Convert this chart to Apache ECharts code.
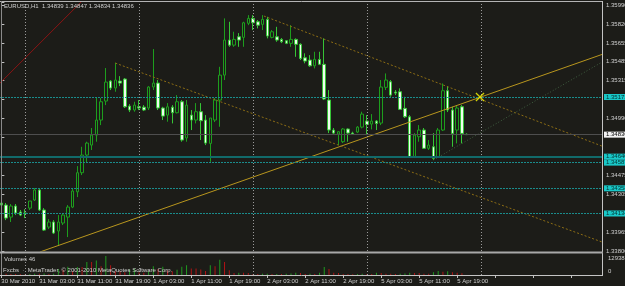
<!DOCTYPE html>
<html>
<head>
<meta charset="utf-8">
<script src="https://cdn.jsdelivr.net/npm/echarts@6/dist/echarts.min.js"></script>
<style>
html,body{margin:0;padding:0;background:#1c1c18;overflow:hidden;}
#chart{width:625px;height:286px;}
</style>
</head>
<body>
<div id="chart"></div>
<script>
// ---------------- data ----------------
const dayBlocks = [['30 Mar',19,23],['31 Mar',0,23],['1 Apr',0,23],['2 Apr',0,23],['5 Apr',0,23],['6 Apr',0,23],['7 Apr',0,1]];
const xTickLabels = ['30 Mar 2010','31 Mar 03:00','31 Mar 11:00','31 Mar 19:00','1 Apr 03:00','1 Apr 11:00','1 Apr 19:00','2 Apr 03:00','2 Apr 11:00','2 Apr 19:00','5 Apr 03:00','5 Apr 11:00','5 Apr 19:00'];
const yTickLabels = ['1.33800','1.33965','','1.34305','1.34475','','','1.34990','','1.35315','1.35485','1.35655','1.35820','1.35990'];
const yTickFirst = 1.33800, yTickLast = 1.35990;
const yAxisMin = 1.33800, yAxisMax = 1.36017;

// [open, close, low, high]
const candles = [
[1.34227,1.34209,1.34191,1.34254],[1.34209,1.34093,1.34075,1.34227],[1.34102,1.34200,1.34058,1.34218],[1.34200,1.34138,1.34120,1.34218],
[1.34147,1.34120,1.34111,1.34165],[1.34138,1.34133,1.34093,1.34173],[1.34182,1.34245,1.34165,1.34245],[1.34254,1.34343,1.34245,1.34360],
[1.34343,1.34165,1.34156,1.34360],[1.34165,1.33986,1.33978,1.34182],[1.34013,1.34058,1.33995,1.34084],[1.34058,1.33960,1.33951,1.34075],
[1.33978,1.34058,1.33844,1.34120],[1.34049,1.34120,1.34031,1.34138],[1.34102,1.34191,1.33924,1.34209],[1.34191,1.34334,1.34182,1.34360],
[1.34327,1.34497,1.34280,1.34556],[1.34497,1.34654,1.34476,1.34728],[1.34654,1.34761,1.34583,1.34773],[1.34743,1.34832,1.34699,1.34895],
[1.34832,1.34966,1.34773,1.35171],[1.34966,1.35129,1.34921,1.35162],[1.35135,1.35304,1.35099,1.35429],[1.35313,1.35251,1.35233,1.35322],
[1.35251,1.35322,1.35218,1.35476],[1.35313,1.35295,1.35268,1.35357],[1.35331,1.35084,1.35073,1.35340],[1.35090,1.35055,1.35037,1.35108],
[1.35055,1.35099,1.35040,1.35129],[1.35084,1.35073,1.35055,1.35144],[1.35081,1.35055,1.35046,1.35099],[1.35073,1.35260,1.35055,1.35268],
[1.35260,1.35295,1.35233,1.35598],[1.35295,1.35073,1.35055,1.35322],[1.35073,1.35001,1.34966,1.35084],[1.35010,1.35084,1.34951,1.35117],
[1.35081,1.35031,1.34936,1.35099],[1.35031,1.35129,1.35025,1.35188],[1.35129,1.34788,1.34773,1.35144],[1.34806,1.35099,1.34773,1.35144],
[1.35010,1.34966,1.34877,1.35055],[1.34966,1.35040,1.34936,1.35117],[1.35040,1.34960,1.34788,1.35117],[1.34966,1.34761,1.34743,1.35010],
[1.34758,1.34984,1.34594,1.34984],[1.34966,1.35144,1.34948,1.35162],[1.35144,1.35366,1.34906,1.35440],[1.35366,1.35678,1.35322,1.35871],
[1.35678,1.35633,1.35618,1.35841],[1.35633,1.35684,1.35618,1.35752],[1.35707,1.35678,1.35618,1.35740],[1.35702,1.35832,1.35618,1.35841],
[1.35827,1.35871,1.35811,1.35900],[1.35871,1.35832,1.35767,1.35900],[1.35841,1.35811,1.35782,1.35856],[1.35818,1.35862,1.35767,1.35900],
[1.35862,1.35714,1.35693,1.35885],[1.35702,1.35752,1.35693,1.35767],[1.35707,1.35678,1.35663,1.35796],[1.35684,1.35663,1.35651,1.35696],
[1.35672,1.35649,1.35642,1.35678],[1.35649,1.35684,1.35618,1.35811],[1.35684,1.35640,1.35529,1.35693],[1.35640,1.35515,1.35500,1.35649],
[1.35520,1.35491,1.35471,1.35560],[1.35500,1.35449,1.35440,1.35544],[1.35449,1.35506,1.35426,1.35574],[1.35506,1.35462,1.35455,1.35574],
[1.35462,1.35153,1.35144,1.35693],[1.35144,1.34877,1.34850,1.35233],[1.34877,1.34850,1.34841,1.34895],[1.34841,1.34862,1.34743,1.34868],
[1.34773,1.34886,1.34761,1.34895],[1.34886,1.34850,1.34773,1.34892],[1.34850,1.34841,1.34833,1.34862],[1.34859,1.34903,1.34850,1.34912],
[1.34903,1.35019,1.34892,1.35040],[1.34957,1.34927,1.34832,1.35010],[1.34930,1.34957,1.34883,1.35019],[1.34957,1.34936,1.34877,1.34966],
[1.34939,1.35260,1.34921,1.35322],[1.35257,1.35322,1.35233,1.35381],[1.35307,1.35188,1.35173,1.35322],[1.35215,1.35206,1.35188,1.35233],
[1.35218,1.35061,1.35055,1.35248],[1.35070,1.34995,1.34984,1.35173],[1.34995,1.34639,1.34634,1.35010],[1.34639,1.34832,1.34634,1.34850],
[1.34817,1.34877,1.34773,1.34921],[1.34877,1.34714,1.34708,1.34895],[1.34714,1.34743,1.34699,1.34788],[1.34728,1.34625,1.34610,1.34850],
[1.34639,1.34877,1.34634,1.34895],[1.34877,1.35227,1.34868,1.35292],[1.35227,1.35055,1.35037,1.35268],[1.35055,1.34847,1.34728,1.35084],
[1.34877,1.35073,1.34758,1.35099],[1.35084,1.34847,1.34758,1.35099],[1.34839,1.34836,1.34834,1.34847]
];

const volumes = [
900,800,700,600,600,500,700,900,800,1000,700,900,
4100,3500,5700,2500,5400,5400,8800,8800,9800,6000,12938,6600,
2500,2500,1900,3800,4400,1900,1500,2500,6000,4100,5700,3000,
2500,3500,5700,6600,4400,4400,3800,2800,6600,6000,10400,8800,
3200,1300,1600,1600,1300,700,600,800,900,600,700,600,
800,1000,1600,1300,700,800,700,1500,5400,4100,1600,1300,
700,600,500,700,900,700,600,1600,1300,900,800,700,
800,1000,1600,1300,1300,900,800,1900,2800,2200,2500,1900,
1600,1200,46
];
const volumeMax = 12938;
const volTickLabels = ['0','12938'];

// horizontal price levels
const levelValues = [1.35171, 1.34836, 1.34640, 1.34587, 1.34358, 1.34134];
const levelLabels = ['1.35171','1.34836','1.34640','1.34587','1.34358','1.34134'];
// day separators (bar index of 00:00)
const daySeparators = [5, 29, 53, 77, 101];
// trend lines [barIndex, price]
const trendUp     = [[8.1, 1.33791], [126.5, 1.35550]];
const channelLow  = [[24, 1.35473], [126.5, 1.33880]];
const channelHigh = [[55.3, 1.35892], [126.5, 1.34734]];
const greyLine    = [[91, 1.34610], [126.5, 1.35482]];
const redLine     = [[-0.5, 1.35286], [17.2, 1.36034]];
const crossMark   = [[100.8, 1.35171]];

const titleText = 'EURUSD,H1  1.34839 1.34847 1.34834 1.34836';
const volumeTitle = 'Volumes 46';
const creditText = 'Fxcbs  \u00b7  MetaTrader, \u00a9 2001-2010 MetaQuotes Software Corp.';

// ---------------- build ----------------
const categories = [];
dayBlocks.forEach(([d, a, b]) => { for (let h = a; h <= b; h++) categories.push(d + ' ' + String(h).padStart(2, '0') + ':00'); });
const nCat = categories.length;
const BG = '#1c1c18';
const FONT = '"Liberation Sans", Arial, sans-serif';
const TXT = '#d0d0d0';
const yInterval = (yTickLast - yTickFirst) / (yTickLabels.length - 1);

const levelStyles = [
  {line:{color:'#1a8c8c', type:[2,1], width:1}, bg:'#19c8c8', fg:'#003333'},
  {line:{color:'#4e4e4e', type:'solid', width:1}, bg:'#f2f2f2', fg:'#000000'},
  {line:{color:'#116a6a', type:'solid', width:2}, bg:'#19c8c8', fg:'#003333'},
  {line:{color:'#1a8c8c', type:[2,1], width:1}, bg:'#19c8c8', fg:'#003333'},
  {line:{color:'#1a8c8c', type:[2,1], width:1}, bg:'#19c8c8', fg:'#003333'},
  {line:{color:'#1a8c8c', type:[2,1], width:1}, bg:'#19c8c8', fg:'#003333'}
];

const volData = volumes.map((v, i) => ({
  value: v,
  itemStyle: { color: (i > 0 && v > volumes[i - 1]) ? '#1f9a1f' : '#b01414' }
}));

function trend(data, color, type, z) {
  return { type:'line', xAxisIndex:1, yAxisIndex:0, data:data, symbol:'none', silent:true, animation:false, z:z,
           lineStyle:{color:color, width:1, type:type}, clip:true };
}

const chart = echarts.init(document.getElementById('chart'), null, {renderer:'canvas'});
chart.setOption({
  backgroundColor: BG,
  animation: false,
  grid: [
    {left:-1, top:2, width:603, height:249, outerBoundsMode:'none'},
    {left:-1, top:256, width:603, height:19, outerBoundsMode:'none'}
  ],
  xAxis: [
    {type:'category', gridIndex:0, data:categories, boundaryGap:true, axisLine:{show:false}, axisTick:{show:false}, axisLabel:{show:false}, splitLine:{show:false}},
    {type:'value', gridIndex:0, min:-0.5, max:nCat-0.5, show:false},
    {type:'category', gridIndex:1, data:categories, boundaryGap:true,
      axisLine:{show:false},
      axisTick:{show:true, interval:7, alignWithLabel:true, length:3, lineStyle:{color:'#c0c0c0'}},
      axisLabel:{interval:7, align:'left', margin:3, fontSize:6, fontFamily:FONT, color:TXT,
        formatter:(v, idx) => (idx % 8 === 0 && xTickLabels[idx / 8]) ? xTickLabels[idx / 8] : ''},
      splitLine:{show:false}},
    {type:'value', gridIndex:1, min:-0.5, max:nCat-0.5, show:false}
  ],
  yAxis: [
    {type:'value', gridIndex:0, position:'right', min:yAxisMin, max:yAxisMax, interval:yInterval,
      axisLine:{show:false}, splitLine:{show:false},
      axisTick:{show:true, length:3, lineStyle:{color:'#c0c0c0'}},
      axisLabel:{margin:4, fontSize:6, fontFamily:FONT, color:TXT, showMinLabel:true, showMaxLabel:true,
        formatter:(v) => { const k = Math.round((v - yTickFirst) / yInterval); if (Math.abs(v - (yTickFirst + k * yInterval)) > 1e-6) return ''; return yTickLabels[k] || ''; }}},
    {type:'value', gridIndex:1, position:'right', min:0, max:volumeMax, interval:volumeMax,
      axisLine:{show:false}, splitLine:{show:false}, axisTick:{show:false},
      axisLabel:{margin:6, fontSize:6, fontFamily:FONT, color:TXT, showMinLabel:true, showMaxLabel:true,
        formatter:(v) => v === 0 ? '{b|' + volTickLabels[0] + '}' : '{a|' + volTickLabels[1] + '}',
        rich:{a:{fontSize:6, fontFamily:FONT, color:TXT, padding:[4,0,0,0]}, b:{fontSize:6, fontFamily:FONT, color:TXT, padding:[0,0,7,0]}}}}
  ],
  series: [
    // day separators main
    {type:'line', xAxisIndex:1, yAxisIndex:0, data:[], silent:true, z:1,
      markLine:{silent:true, symbol:['none','none'], animation:false, precision:5, label:{show:false},
        lineStyle:{color:'#9a9a9a', type:[1,2], width:1},
        data: daySeparators.map(v => ({xAxis:v}))}},
    // horizontal levels
    {type:'line', xAxisIndex:1, yAxisIndex:0, data:[], silent:true, z:2, clip:false,
      markLine:{silent:true, symbol:['none','none'], animation:false, precision:5,
        data: levelValues.map((v, k) => ({yAxis:v, lineStyle:levelStyles[k].line,
          label:{show:true, position:'end', distance:2, formatter:levelLabels[k], fontSize:6, fontFamily:FONT,
            color:levelStyles[k].fg, backgroundColor:levelStyles[k].bg, padding:[0,2,0,2], lineHeight:6}}))}},
    {type:'candlestick', xAxisIndex:0, yAxisIndex:0, data:candles, barWidth:3, z:3, silent:true,
      itemStyle:{color:BG, color0:'#eefcee', borderColor:'#1d9e1d', borderColor0:'#36c436', borderWidth:1}},
    trend(trendUp, '#b8961e', 'solid', 4),
    trend(channelLow, '#8c6d14', [2,2], 4),
    trend(channelHigh, '#8c6d14', [2,2], 4),
    trend(greyLine, '#3f5e3f', [1,2], 4),
    trend(redLine, '#8a1414', 'solid', 4),
    {type:'scatter', xAxisIndex:1, yAxisIndex:0, data:crossMark, silent:true, z:6,
      symbol:'path://M1,0L5,4L9,0L10,1L6,5L10,9L9,10L5,6L1,10L0,9L4,5L0,1Z', symbolSize:9,
      itemStyle:{color:'#ffff00'}},
    // volumes
    {type:'bar', xAxisIndex:2, yAxisIndex:1, data:volData, barWidth:1, silent:true, z:3},
    {type:'line', xAxisIndex:3, yAxisIndex:1, data:[], silent:true, z:1,
      markLine:{silent:true, symbol:['none','none'], animation:false, precision:5, label:{show:false},
        lineStyle:{color:'#9a9a9a', type:[1,2], width:1},
        data: daySeparators.map(v => ({xAxis:v}))}}
  ],
  graphic: [
    {type:'line', silent:true, z:100, shape:{x1:0, y1:1.5, x2:603, y2:1.5}, style:{stroke:'#b4b4b4', lineWidth:1}},
    {type:'line', silent:true, z:100, shape:{x1:1.5, y1:1, x2:1.5, y2:276}, style:{stroke:'#8a8a8a', lineWidth:1}},
    {type:'line', silent:true, z:100, shape:{x1:602.5, y1:1, x2:602.5, y2:276}, style:{stroke:'#c4c4c4', lineWidth:1}},
    {type:'rect', silent:true, z:100, shape:{x:0, y:251.5, width:603, height:2}, style:{fill:'#a8a8a8'}},
    {type:'line', silent:true, z:100, shape:{x1:0, y1:275.5, x2:603, y2:275.5}, style:{stroke:'#c4c4c4', lineWidth:1}},
    {type:'text', silent:true, z:101, left:4, top:3, style:{text:titleText, fill:TXT, font:'6px ' + FONT}},
    {type:'text', silent:true, z:101, left:4, top:256, style:{text:volumeTitle, fill:TXT, font:'6px ' + FONT}},
    {type:'text', silent:true, z:101, left:3, top:267, style:{text:creditText, fill:TXT, font:'6px ' + FONT}}
  ]
});
</script>
</body>
</html>
